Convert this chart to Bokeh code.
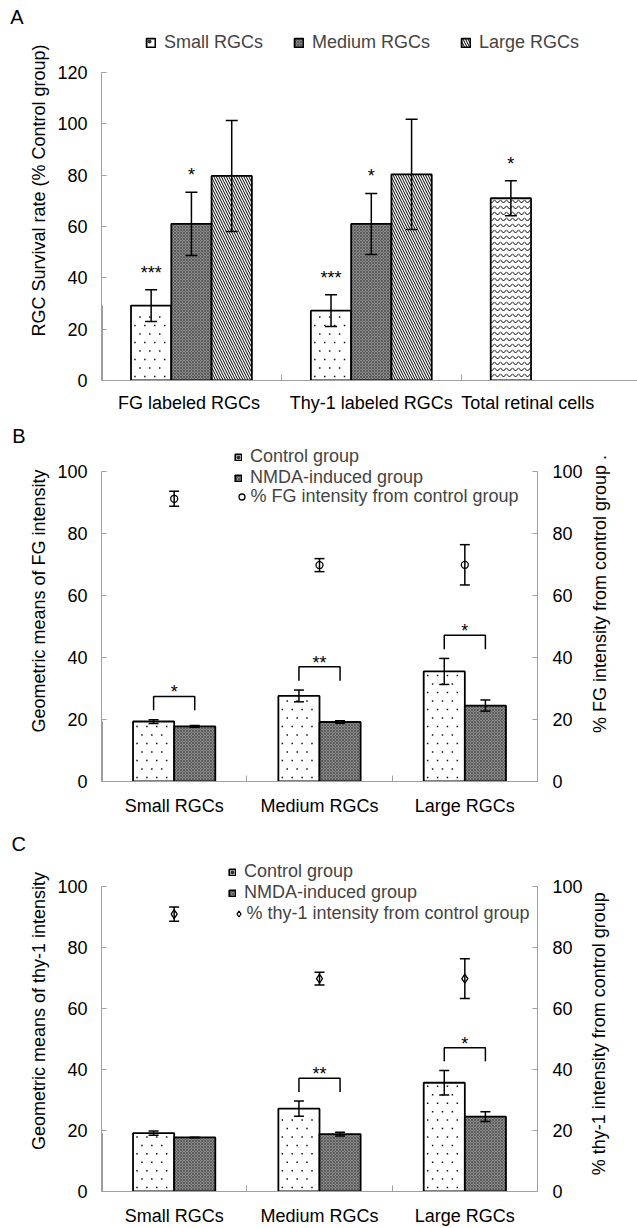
import math
import numpy as np
from bokeh.plotting import figure
from bokeh.models import (Range1d, LinearAxis, FixedTicker, ColumnDataSource, Whisker, TeeHead,
                          Legend, LegendItem, Label)
from bokeh.layouts import column, row
from bokeh.embed import file_html
from bokeh.resources import INLINE
from bokeh.core.properties import value

FONT = "Liberation Sans"
FS = "18px"

# ---------------- data: panel A ----------------
a_categories = ["FG  labeled RGCs", "Thy-1 labeled RGCs", "Total retinal cells"]
a_series = ["Small RGCs", "Medium RGCs", "Large RGCs"]
a_small = [29.2, 27.2]
a_small_err = [6.2, 6.2]
a_medium = [61.0, 61.0]
a_medium_err = [12.3, 11.9]
a_large = [79.7, 80.3]
a_large_err = [21.6, 21.5]
a_total = [71.0]
a_total_err = [6.8]
a_small_sig = ["***", "***"]
a_medium_sig = ["*", "*"]
a_total_sig = ["*"]
a_yticks = [0, 20, 40, 60, 80, 100, 120]

# ---------------- data: panel B ----------------
b_categories = ["Small RGCs", "Medium RGCs", "Large RGCs"]
b_control = [19.35, 27.6, 35.5]
b_control_err = [0.6, 1.9, 4.2]
b_nmda = [17.8, 19.2, 24.5]
b_nmda_err = [0.3, 0.4, 1.8]
b_pct = [91.2, 69.8, 69.9]
b_pct_err = [2.4, 2.1, 6.5]
b_sig = ["*", "**", "*"]

# ---------------- data: panel C ----------------
c_categories = ["Small RGCs", "Medium RGCs", "Large RGCs"]
c_control = [19.1, 27.1, 35.6]
c_control_err = [0.7, 2.5, 4.0]
c_nmda = [17.7, 18.8, 24.5]
c_nmda_err = [0.1, 0.6, 1.6]
c_pct = [90.8, 69.7, 69.7]
c_pct_err = [2.3, 2.1, 6.5]
c_sig = ["", "**", "*"]

bc_yticks = [0, 20, 40, 60, 80, 100]

# ---------------- styles ----------------
AX_COLOR = "#a0a0a0"
ST_WHITE = dict(fill_color="white")
ST_DOTS_LEG = dict(fill_color="white", hatch_pattern=".", hatch_scale=8, hatch_color="#333333", hatch_weight=0.3)
ST_DARK = dict(fill_color="#8a8a8a", hatch_pattern="x", hatch_scale=3, hatch_color="#3c3c3c", hatch_weight=0.6)
ST_DIAG = dict(fill_color="white", hatch_pattern="\\", hatch_scale=5, hatch_color="black", hatch_weight=1)
ST_WAVE = dict(fill_color="white", hatch_pattern="v", hatch_scale=6, hatch_color="black", hatch_weight=1)
BAR_LINE = dict(line_color="black", line_width=1.8)
LETTER_W = 26
TITLE_W = 49


def style_axis(ax, label_standoff):
    ax.axis_line_color = AX_COLOR
    ax.major_tick_line_color = AX_COLOR
    ax.minor_tick_line_color = AX_COLOR
    ax.major_label_text_font = FONT
    ax.major_label_text_font_size = FS
    ax.major_label_text_color = "black"
    ax.axis_label_text_font = FONT
    ax.axis_label_text_font_size = FS
    ax.axis_label_text_font_style = "normal"
    ax.axis_label_text_color = "black"
    ax.major_label_standoff = label_standoff


def add_whiskers(p, xs, vals, errs, size, y_range_name="default"):
    src = ColumnDataSource(dict(x=list(xs),
                                upper=[v + e for v, e in zip(vals, errs)],
                                lower=[v - e for v, e in zip(vals, errs)]))
    w = Whisker(source=src, base="x", upper="upper", lower="lower",
                line_color="black", line_width=1.5, level="overlay",
                upper_head=TeeHead(size=size, line_color="black", line_width=1.5),
                lower_head=TeeHead(size=size, line_color="black", line_width=1.5),
                y_range_name=y_range_name)
    p.add_layout(w)


def stars(p, xs, ys, labels, y_offset):
    keep = [i for i, s in enumerate(labels) if s]
    src = ColumnDataSource(dict(x=[xs[i] for i in keep], y=[ys[i] for i in keep],
                                t=[labels[i] for i in keep]))
    p.text(x="x", y="y", text="t", source=src, text_font=value(FONT), text_font_size=FS,
           text_align="center", text_baseline="alphabetic", y_offset=y_offset, text_color="black")


def dotted_bars(p, xc, tops, width, ppx, ppy, dx=10.0, dy=8.5):
    """White bars with a sparse staggered dot texture (texture points follow each bar's extent)."""
    p.vbar(x=xc, top=tops, width=width, **BAR_LINE, **ST_WHITE)
    xs, ys = [], []
    for c, t in zip(xc, tops):
        left = c - width / 2
        w_px = width * ppx
        h_px = t * ppy
        j = 0
        y_px = 4.0
        while y_px < h_px - 3:
            x_px = 4.0 + (dx / 2 if j % 2 else 0.0)
            while x_px < w_px - 3:
                xs.append(left + x_px / ppx)
                ys.append(y_px / ppy)
                x_px += dx
            y_px += dy
            j += 1
    p.scatter(xs, ys, marker="square", size=1.5, fill_color="#111111", line_color=None)
    # legend proxy drawn outside the visible x range: only its legend swatch shows
    leg = p.vbar(x=[p.x_range.start - 5], top=[tops[0]], width=width, **BAR_LINE, **ST_DOTS_LEG)
    return leg


def text_fig(txt, width, height, lx, ly, size, angle=0.0):
    f = figure(width=width, height=height, x_range=Range1d(0, width), y_range=Range1d(0, height),
               output_backend="svg", toolbar_location=None, x_axis_type=None, y_axis_type=None,
               min_border=0)
    f.outline_line_color = None
    f.grid.visible = False
    f.add_layout(Label(x=lx, y=height - ly, text=txt, text_font=FONT, text_font_size=size,
                       text_align="center", text_baseline="middle", text_color="black", angle=angle))
    return f


# ---------------- panel A ----------------
A_H, A_TOP_PX, A_BOTTOM = 420, 72, 40       # figure height, pixel of top tick, bottom border
A_FRAME_H = A_H - A_BOTTOM
A_YMAX = a_yticks[-1] * A_FRAME_H / (A_FRAME_H - A_TOP_PX)
A_XMAX = 2.98
A_FRAME_W = 637 - 96
bwA = 0.224
pA = figure(width=637 - LETTER_W, height=A_H, x_range=Range1d(0, A_XMAX), y_range=Range1d(0, A_YMAX),
            output_backend="svg", toolbar_location=None,
            min_border_left=96 - LETTER_W, min_border_right=0, min_border_top=0, min_border_bottom=A_BOTTOM)
pA.outline_line_color = None
pA.grid.visible = False

xa = np.arange(len(a_small)) + 0.5
r_s = dotted_bars(pA, list(xa - bwA), a_small, bwA, A_FRAME_W / A_XMAX, A_FRAME_H / A_YMAX)
r_m = pA.vbar(x=xa, top=a_medium, width=bwA, **BAR_LINE, **ST_DARK)
r_l = pA.vbar(x=xa + bwA, top=a_large, width=bwA, **BAR_LINE, **ST_DIAG)
xt = np.array([2.5]) - bwA
pA.vbar(x=xt, top=a_total, width=bwA, **BAR_LINE, **ST_WAVE)

add_whiskers(pA, xa - bwA, a_small, a_small_err, 12)
add_whiskers(pA, xa, a_medium, a_medium_err, 12)
add_whiskers(pA, xa + bwA, a_large, a_large_err, 12)
add_whiskers(pA, xt, a_total, a_total_err, 12)

stars(pA, list(xa - bwA), [v + e for v, e in zip(a_small, a_small_err)], a_small_sig, -17)
stars(pA, list(xa), [v + e for v, e in zip(a_medium, a_medium_err)], a_medium_sig, -17)
stars(pA, list(xt), [v + e for v, e in zip(a_total, a_total_err)], a_total_sig, -17)

xaxA = pA.xaxis[0]
style_axis(xaxA, 6)
xaxA.ticker = FixedTicker(ticks=[0.5, 1.5, 2.37], minor_ticks=[1, 2])
xaxA.major_label_overrides = {0.5: a_categories[0], 1.5: a_categories[1], 2.37: a_categories[2]}
xaxA.major_tick_line_color = None
xaxA.minor_tick_in = 6
xaxA.minor_tick_out = 0

yaxA = pA.yaxis[0]
style_axis(yaxA, 14)
yaxA.ticker = FixedTicker(ticks=a_yticks)
yaxA.bounds = (a_yticks[0], a_yticks[-1])
yaxA.major_tick_in = 5
yaxA.major_tick_out = 0
yaxA.minor_tick_line_color = None
yaxA.axis_label = "RGC Survival rate (% Control group)"
yaxA.axis_label_standoff = 5

legA = Legend(items=[LegendItem(label=a_series[0], renderers=[r_s]),
                     LegendItem(label=a_series[1], renderers=[r_m]),
                     LegendItem(label=a_series[2], renderers=[r_l])],
              orientation="horizontal", location=(44, 327), glyph_width=11, glyph_height=11,
              label_standoff=8, spacing=30, padding=0, margin=0, border_line_color=None,
              background_fill_alpha=0, label_text_font=FONT, label_text_font_size=FS)
pA.add_layout(legA)
rowA = row(text_fig("A", LETTER_W, A_H, 16.5, 18.5, "20px"), pA, spacing=0)


# ---------------- panels B / C ----------------
def make_bc(cats, ctrl, ctrl_err, nmda, nmda_err, pct, pct_err, sig,
            left_title, right_title, pct_label, marker, marker_size,
            height, top_px, bbottom, x_standoff, let, let_xy, leg1, leg2, leg2_standoff, rt_xy):
    bw = 0.283
    off = bw / 2
    frame_h = height - bbottom
    frame_w = 537 - 96
    ymax = bc_yticks[-1] * frame_h / (frame_h - top_px)
    p = figure(width=637 - LETTER_W - TITLE_W, height=height, x_range=Range1d(0, 3),
               y_range=Range1d(0, ymax), output_backend="svg", toolbar_location=None,
               min_border_left=96 - LETTER_W, min_border_right=637 - TITLE_W - 537, min_border_top=0,
               min_border_bottom=bbottom)
    p.outline_line_color = None
    p.grid.visible = False
    p.extra_y_ranges = {"pct": Range1d(0, ymax)}

    x = np.arange(len(cats)) + 0.5
    rc = dotted_bars(p, list(x - off), ctrl, bw, frame_w / 3, frame_h / ymax)
    rn = p.vbar(x=x + off, top=nmda, width=bw, **BAR_LINE, **ST_DARK)
    add_whiskers(p, x - off, ctrl, ctrl_err, 10)
    add_whiskers(p, x + off, nmda, nmda_err, 10)

    rp = p.scatter(x=x, y=pct, marker=marker, size=marker_size, fill_color="white",
                   line_color="black", line_width=1.3, y_range_name="pct", level="overlay")
    add_whiskers(p, x, pct, pct_err, 10, y_range_name="pct")

    # significance brackets
    bxs, bys, tx, ty, tt = [], [], [], [], []
    for i, s in enumerate(sig):
        if not s:
            continue
        leg = max(ctrl[i] + ctrl_err[i], nmda[i] + nmda_err[i]) + 3.0
        top = leg + 4.5
        bxs.append([x[i] - off, x[i] - off, x[i] + off, x[i] + off])
        bys.append([leg, top, top, leg])
        tx.append(x[i]); ty.append(top); tt.append(s)
    if bxs:
        p.multi_line(xs=bxs, ys=bys, line_color="black", line_width=1.5)
        stars(p, tx, ty, tt, -4)

    xax = p.xaxis[0]
    style_axis(xax, x_standoff)
    xax.ticker = FixedTicker(ticks=list(x), minor_ticks=[1, 2])
    xax.major_label_overrides = {float(v): c for v, c in zip(x, cats)}
    xax.major_tick_line_color = None
    xax.minor_tick_in = 6
    xax.minor_tick_out = 0

    yax = p.yaxis[0]
    style_axis(yax, 14)
    yax.ticker = FixedTicker(ticks=bc_yticks)
    yax.bounds = (bc_yticks[0], bc_yticks[-1])
    yax.major_tick_in = 5
    yax.major_tick_out = 0
    yax.minor_tick_line_color = None
    yax.axis_label = left_title
    yax.axis_label_standoff = 5

    rax = LinearAxis(y_range_name="pct")
    style_axis(rax, 15)
    rax.ticker = FixedTicker(ticks=bc_yticks)
    rax.bounds = (bc_yticks[0], bc_yticks[-1])
    rax.major_tick_in = 5
    rax.major_tick_out = 0
    rax.minor_tick_line_color = None
    p.add_layout(rax, "right")

    l1 = Legend(items=[LegendItem(label="Control group", renderers=[rc]),
                       LegendItem(label="NMDA-induced group", renderers=[rn])],
                location=leg1, glyph_width=8, glyph_height=8, label_standoff=8, spacing=0,
                padding=0, margin=0, border_line_color=None, background_fill_alpha=0,
                label_text_font=FONT, label_text_font_size=FS)
    l2 = Legend(items=[LegendItem(label=pct_label, renderers=[rp])],
                location=leg2, glyph_width=15, glyph_height=15, label_standoff=leg2_standoff,
                spacing=0, padding=0, margin=0, border_line_color=None, background_fill_alpha=0,
                label_text_font=FONT, label_text_font_size=FS)
    p.add_layout(l1)
    p.add_layout(l2)
    return row(text_fig(let, LETTER_W, height, let_xy[0], let_xy[1], "20px"), p,
               text_fig(right_title, TITLE_W, height, rt_xy[0], rt_xy[1], FS, math.pi / 2),
               spacing=0)


rowB = make_bc(b_categories, b_control, b_control_err, b_nmda, b_nmda_err, b_pct, b_pct_err, b_sig,
               "Geometric means of FG intensity", "% FG intensity from control group .",
               "% FG intensity from control group", "circle", 7,
               410, 51, 49, 8, "B", (18.5, 18), (133, 293), (132.5, 274), 2, (11.5, 197))

rowC = make_bc(c_categories, c_control, c_control_err, c_nmda, c_nmda_err, c_pct, c_pct_err, c_sig,
               "Geometric means of thy-1 intensity", "% thy-1 intensity from control group",
               "% thy-1 intensity from control group", "diamond", 9,
               398, 56, 34, 8, "C", (18.3, 15), (127, 288), (129.5, 267.5), 1, (10.5, 224))

layout = column(rowA, rowB, rowC, spacing=0)
open("out.html", "w").write(file_html(layout, INLINE))
